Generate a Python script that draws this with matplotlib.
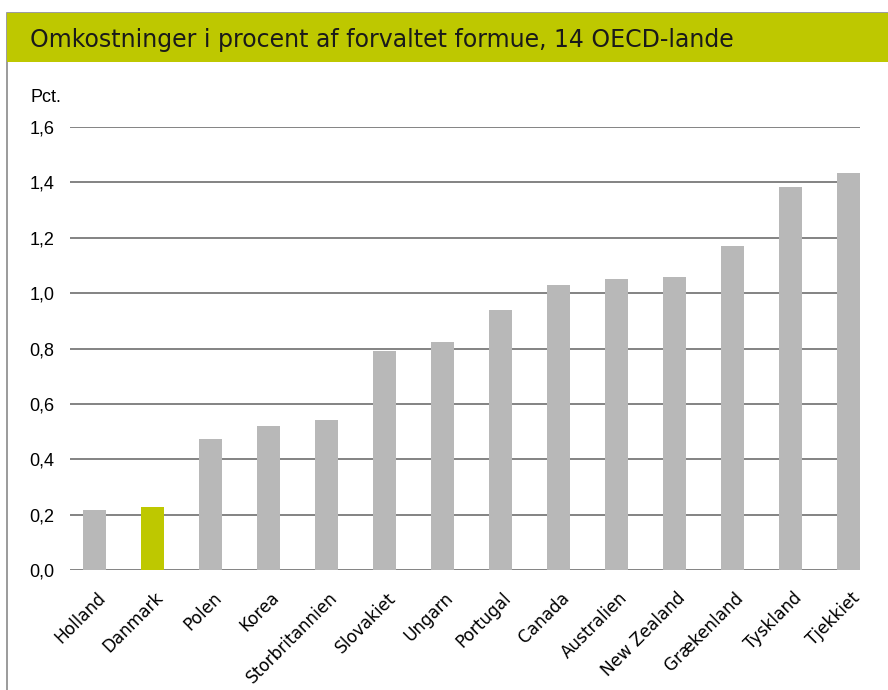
import matplotlib.pyplot as plt
from matplotlib.patches import Rectangle
from matplotlib.transforms import ScaledTranslation

# data
lande = ["Holland", "Danmark", "Polen", "Korea", "Storbritannien", "Slovakiet",
         "Ungarn", "Portugal", "Canada", "Australien", "New Zealand",
         "Grækenland", "Tyskland", "Tjekkiet"]
omk = [0.217, 0.228, 0.473, 0.52, 0.542, 0.791, 0.823, 0.939, 1.029,
       1.051, 1.058, 1.170, 1.383, 1.434]
yticks = [0.0, 0.2, 0.4, 0.6, 0.8, 1.0, 1.2, 1.4, 1.6]

groen = "#bec800"
graa = "#b8b8b8"

fig = plt.figure(figsize=(8.88, 6.90), dpi=100)

# frame + title band
fig.patches.append(Rectangle((7/888, -0.1), 1.2, 1 - 13/690 + 0.1,
                             transform=fig.transFigure, facecolor="white",
                             edgecolor="#8a8a8a", linewidth=1.2, zorder=-2))
fig.patches.append(Rectangle((7/888, 1 - 62/690), 1.0, 49/690,
                             transform=fig.transFigure, facecolor=groen,
                             edgecolor="none", zorder=-1))
fig.text(30/888, 1 - 40/690, "Omkostninger i procent af forvaltet formue, 14 OECD-lande",
         fontsize=17, family="DejaVu Sans", va="center", ha="left", color="#1a1a1a")

ax = fig.add_axes([70/888, 1 - 570/690, 790/888, 443/690])
ax.set_facecolor("none")
farver = [groen if l == "Danmark" else graa for l in lande]
x = range(len(lande))
ax.bar(x, omk, width=0.4, color=farver, zorder=3)

ax.set_ylim(0, 1.6)
ax.set_xlim(-0.42, 13.2)
ax.set_yticks(yticks)
ax.set_yticklabels([f"{v:.1f}".replace(".", ",") for v in yticks],
                   fontsize=13, family="Liberation Sans")
ax.yaxis.grid(True, color="#6e6e6e", linewidth=1.2, zorder=1)
ax.set_axisbelow(True)
ax.tick_params(axis="y", length=0, pad=11)
ax.tick_params(axis="x", length=0)
for s in ax.spines.values():
    s.set_visible(False)

ax.set_xticks(list(x))
ax.set_xticklabels(lande, rotation=45, ha="right", rotation_mode="anchor",
                   fontsize=12.2, family="DejaVu Sans")
off = ScaledTranslation(1.5/72, -10/72, fig.dpi_scale_trans)
for lbl in ax.get_xticklabels():
    lbl.set_transform(lbl.get_transform() + off)

fig.text(30/888, 1 - 97/690, "Pct.", fontsize=13, family="Liberation Sans",
         va="center", ha="left")

fig.savefig("out.png", dpi=100)
